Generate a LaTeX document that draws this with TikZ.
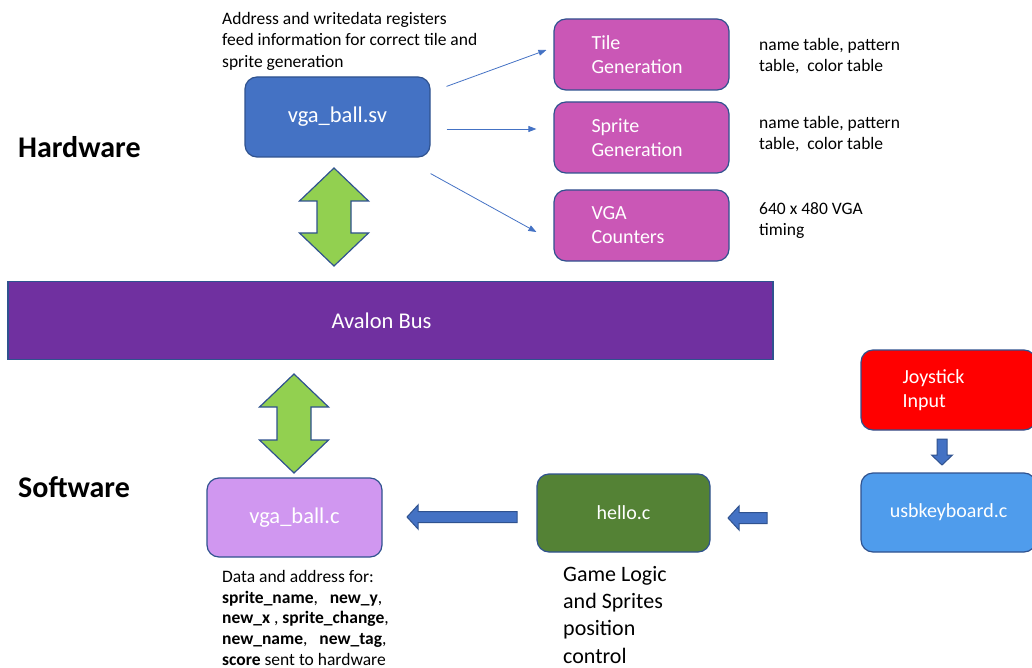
\documentclass[tikz,border=0pt]{standalone}
\usepackage{fontspec}
\setmainfont{Carlito}
\usepackage{tikz}
\usetikzlibrary{arrows.meta,positioning}
\definecolor{edgeblue}{HTML}{2F528F}
\definecolor{svblue}{HTML}{4472C4}
\definecolor{genpink}{HTML}{CA57B6}
\definecolor{buspurple}{HTML}{7030A0}
\definecolor{arrowgreen}{HTML}{92D050}
\definecolor{swlilac}{HTML}{D097F0}
\definecolor{hellogreen}{HTML}{548235}
\definecolor{usbblue}{HTML}{4F9CEC}

\begin{document}
\begin{tikzpicture}[x=1pt,y=-1pt,
  box/.style n args={3}{draw=edgeblue,line width=1.2pt,fill=#1,rounded corners=12pt,
    minimum width=#2pt,minimum height=#3pt,inner sep=0pt,text=white,
    font=\fontsize{20}{24}\selectfont},
  bigtext/.style={font=\fontsize{22.5}{26}\selectfont},
  leftbox/.style={text width=100pt,align=left},
  note/.style={inner sep=0pt,align=left,font=\fontsize{17.5}{21.5}\selectfont},
  title/.style={inner sep=0pt,anchor=west,font=\fontsize{30}{33}\selectfont\bfseries},
  feed/.style={draw=svblue,line width=0.8pt,-{Triangle[length=8pt,width=6pt]}},
  dblarrow/.style={draw=edgeblue,line width=1.2pt,fill=arrowgreen,line join=miter},
  blockarrow/.style={draw=edgeblue,line width=1pt,fill=svblue,line join=miter}]
\clip (0,0) rectangle (1032,668);

% hardware side
\node[title] (hw) at (18,147) {Hardware};
\node[note,anchor=north west] (regnote) at (222,12)
  {Address and writedata registers\\feed information for correct tile and\\sprite generation};
\node[box={svblue}{185}{80},bigtext] (vga) at (337.5,117) {vga\_ball.sv};
\node[box={genpink}{175}{71},leftbox] (tile) at (641.5,54.5) {Tile\\Generation};
\node[box={genpink}{175}{71},leftbox] (sprite) at (641.5,137.5) {Sprite\\Generation};
\node[box={genpink}{175}{71},leftbox] (counters) at (641.5,225.5) {VGA\\Counters};
\node[note,anchor=north west] (tilenote) at (759,38) {name table, pattern\\table,\ \ color table};
\node[note,anchor=north west] (spritenote) at (759,116) {name table, pattern\\table,\ \ color table};
\node[note,anchor=north west] (vganote) at (759,202) {640 x 480 VGA\\timing};

\draw[feed] ([xshift=16pt,yshift=-10pt]vga.north east) -- ([xshift=-7pt,yshift=4.5pt]tile.west);
\draw[feed] ([xshift=16pt,yshift=-12pt]vga.east) -- ([xshift=-17pt,yshift=8.5pt]sprite.west);
\draw[feed] ([yshift=-16pt]vga.south east) -- ([xshift=-17pt,yshift=-6.5pt]counters.west);

% bus
\node[box={buspurple}{765}{78},bigtext,rounded corners=0pt] (bus) at (390.5,320.5) {Avalon Bus\hspace*{18pt}};

% software side
\node[title] (sw) at (18,487) {Software};
\node[box={swlilac}{175}{79},bigtext] (vgac) at (294.5,517.5) {vga\_ball.c};
\node[box={hellogreen}{173}{78}] (hello) at (623.5,513) {hello.c};
\node[box={usbblue}{175}{79}] (usb) at (948.5,512.5) {usbkeyboard.c};
\node[box={red}{175}{80},leftbox,text width=92pt] (joy) at (948.5,390) {Joystick\\Input};
\node[note,anchor=north west,font=\fontsize{17.5}{20.8}\selectfont] (datanote) at (222,570)
  {Data and address for:\\\textbf{sprite\_name},\ \ \ \textbf{new\_y},\\\textbf{new\_x} , \textbf{sprite\_change},\\
   \textbf{new\_name},\ \ \ \textbf{new\_tag},\\\textbf{score} sent to hardware};
\node[note,anchor=north west,font=\fontsize{22}{27.3}\selectfont] (logicnote) at (563,566)
  {Game Logic\\and Sprites\\position\\control};

% block arrows
\foreach \cx/\ytop/\ybot in {334/168/266, 294/374/473} {
  \draw[dblarrow] (\cx,\ytop) -- (\cx+34.5,\ytop+33) -- (\cx+17,\ytop+33) -- (\cx+17,\ybot-33)
    -- (\cx+34.5,\ybot-33) -- (\cx,\ybot) -- (\cx-34.5,\ybot-33) -- (\cx-17,\ybot-33)
    -- (\cx-17,\ytop+33) -- (\cx-34.5,\ytop+33) -- cycle;
}
\foreach \xs/\xt/\yc in {517/407/517, 767/728/518} {
  \draw[blockarrow] (\xs,\yc-5.5) -- (\xt+11,\yc-5.5) -- (\xt+11,\yc-12) -- (\xt,\yc)
    -- (\xt+11,\yc+12) -- (\xt+11,\yc+5.5) -- (\xs,\yc+5.5) -- cycle;
}
\draw[blockarrow] (937,439) -- (947,439) -- (947,455) -- (952.5,455) -- (942,465)
  -- (931.5,455) -- (937,455) -- cycle;
\end{tikzpicture}
\end{document}
